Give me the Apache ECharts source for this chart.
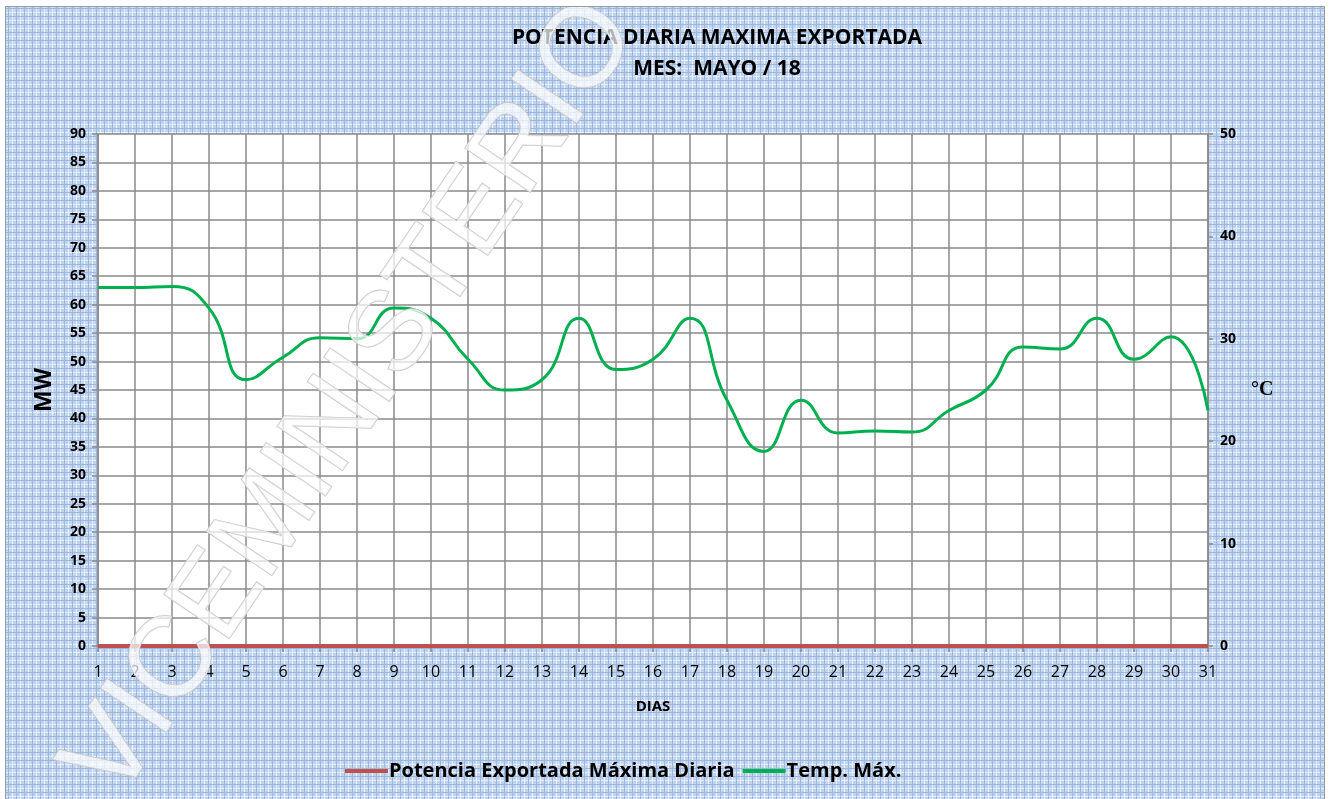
<!DOCTYPE html>
<html>
<head>
<meta charset="utf-8">
<script src="https://cdn.jsdelivr.net/npm/echarts@6/dist/echarts.min.js"></script>
<style>
  html, body { margin: 0; padding: 0; background: #fff; }
  #chart { width: 1329px; height: 799px; }
</style>
</head>
<body>
<div id="chart"></div>
<script>
// datos del mes
let dias = [];
for (let d = 1; d <= 31; d++) dias.push(String(d));
let potencia = [0,0,0,0,0,0,0,0,0,0,0,0,0,0,0,0,0,0,0,0,0,0,0,0,0,0,0,0,0,0,0];
let temperatura = [35,35,35.1,33,26,28.2,30.1,30,33,32,28,25,26,32,27,28,32,24,19,24,20.8,21,20.9,23,25,29.2,29,32,28,30.2,23];

// textura azul del fondo
function fondo(){
	let c = document.createElement('canvas');
	c.width = 8; c.height = 8;
	let g = c.getContext('2d');
	g.fillStyle = '#c3d5ee';
	g.fillRect(0,0,8,8);
	g.fillStyle = '#e8effa';
	g.fillRect(0,4,8,1);
	g.fillRect(4,0,1,8);
	g.fillStyle = '#9ab9e2';
	g.fillRect(0,0,8,1);
	g.fillRect(0,0,1,8);
	g.fillStyle = '#aec6e9';
	g.fillRect(2,2,1,1);
	g.fillRect(6,6,1,1);
	return c;
}

let myChart = echarts.init(document.getElementById('chart'));
let etiqueta = {fontFamily:'Open Sans', fontWeight:'bold', fontSize:14, color:'#000'};

myChart.setOption({
	backgroundColor: {image: fondo(), repeat: 'repeat'},
	animation: false,
	title: {
		text: 'POTENCIA DIARIA MAXIMA EXPORTADA\nMES:  MAYO / 18',
		left: 712, top: 18, textAlign: 'center',
		textStyle: {fontFamily:'Open Sans', fontWeight:'bold', fontSize:21, lineHeight:31, color:'#000'}
	},
	legend: {
		left: 340, top: 756,
		itemWidth: 43, itemHeight: 4, itemGap: 8,
		icon: 'rect',
		textStyle: {fontFamily:'Open Sans', fontWeight:'bold', fontSize:20, color:'#000', padding:[0,0,0,-4]},
		data: ['Potencia Exportada Máxima Diaria','Temp. Máx.']
	},
	grid: {
		left: 98, right: 121, top: 134, bottom: 153,
		show: true, backgroundColor: '#fff', borderWidth: 0
	},
	xAxis: {
		type: 'category', data: dias, boundaryGap: false,
		name: 'DIAS', nameLocation: 'middle', nameGap: 53,
		nameTextStyle: {fontFamily:'Open Sans', fontWeight:'bold', fontSize:15, color:'#000'},
		axisLine: {lineStyle:{color:'#8a8a8a', width:1.5}},
		axisTick: {show:true, length:6, lineStyle:{color:'#8a8a8a', width:1.5}},
		axisLabel: {margin:18, fontFamily:'Open Sans', fontSize:16, color:'#000'},
		splitLine: {show:true, lineStyle:{color:'#8a8a8a', width:1.5}}
	},
	yAxis: [{
		type: 'value', min: 0, max: 90, interval: 5,
		name: 'MW', nameLocation: 'middle', nameGap: 42, nameRotate: 90,
		nameTextStyle: {fontFamily:'Open Sans', fontWeight:'bold', fontSize:23, color:'#000'},
		axisLine: {show:true, lineStyle:{color:'#8a8a8a', width:1.5}},
		axisTick: {show:true, length:6, lineStyle:{color:'#8a8a8a', width:1.5}},
		axisLabel: Object.assign({margin:12}, etiqueta),
		splitLine: {show:true, lineStyle:{color:'#8a8a8a', width:1.5}}
	},{
		type: 'value', min: 0, max: 50, interval: 10,
		name: '°C', nameLocation: 'middle', nameGap: 43, nameRotate: 0,
		nameTextStyle: {fontFamily:'Liberation Serif', fontWeight:'bold', fontSize:20, color:'#000'},
		axisLine: {show:true, lineStyle:{color:'#8a8a8a', width:1.5}},
		axisTick: {show:true, length:5, lineStyle:{color:'#8a8a8a', width:1.5}},
		axisLabel: Object.assign({margin:12}, etiqueta),
		splitLine: {show:false}
	}],
	series: [{
		name: 'Potencia Exportada Máxima Diaria',
		type: 'line', data: potencia, yAxisIndex: 0,
		symbol: 'none', color: '#c0504d',
		lineStyle: {width:4, color:'#c0504d'}, z: 3
	},{
		name: 'Temp. Máx.',
		type: 'line', data: temperatura, yAxisIndex: 1,
		symbol: 'none', smooth: 0.5, color: '#00b050',
		lineStyle: {width:3, color:'#00b050'}, z: 4
	}],
	graphic: [
		{type:'rect', shape:{x:0,y:0,width:1329,height:6}, style:{fill:'#fff'}, z:100},
		{type:'rect', shape:{x:0,y:0,width:5,height:799}, style:{fill:'#fff'}, z:100},
		{type:'rect', shape:{x:1325,y:0,width:4,height:799}, style:{fill:'#fff'}, z:100},
		{type:'rect', shape:{x:5.5,y:6.5,width:1319,height:800}, style:{fill:'none', stroke:'#9a9a9a', lineWidth:1}, z:101},
		{
			// marca de agua
			type:'text', x:352, y:400, rotation: 56*Math.PI/180, z:50,
			style:{
				text:'VICEMINISTERIO', fontFamily:'Liberation Sans', fontSize:114,
				align:'center', verticalAlign:'middle',
				fill:'rgba(255,255,255,0.7)', stroke:'#c9c9c9', lineWidth:1.6
			}
		}
	]
});
</script>
</body>
</html>
